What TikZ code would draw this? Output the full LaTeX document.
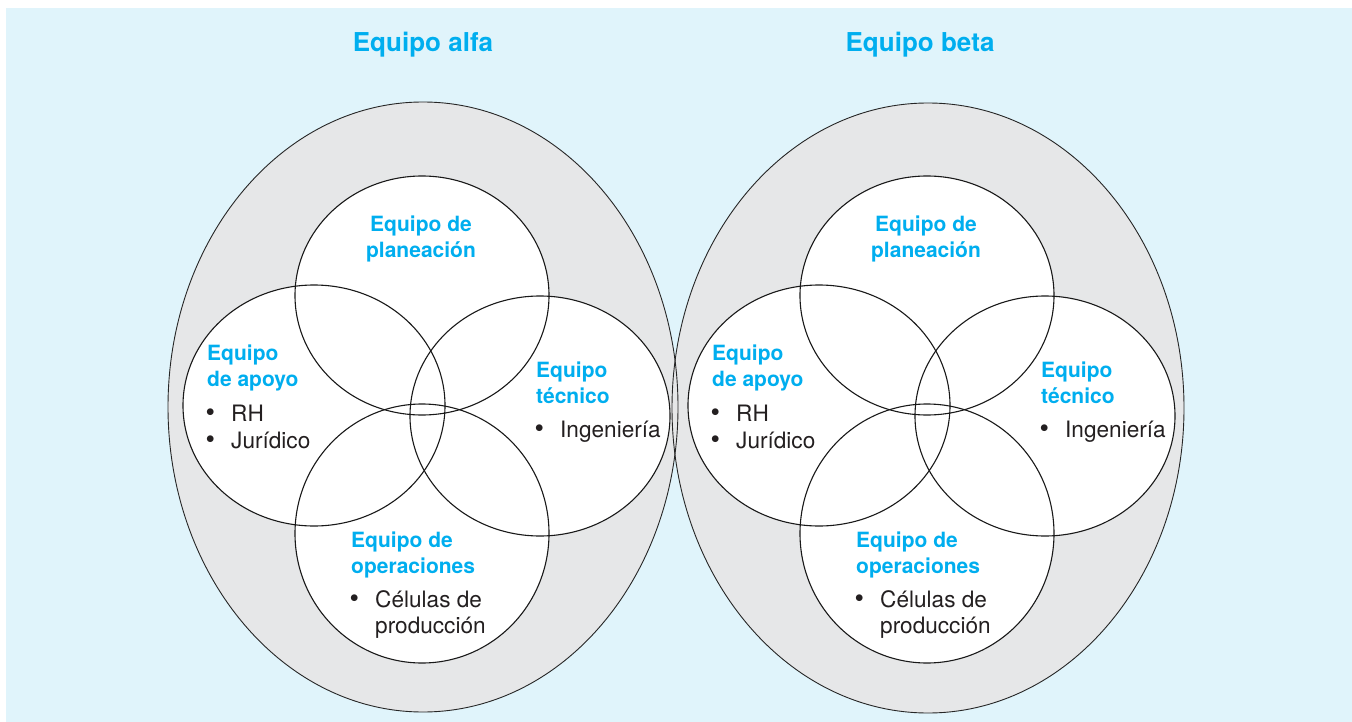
\documentclass[tikz,border=0pt]{standalone}
\usepackage{fontspec}
\setmainfont{TeX Gyre Heros}
\definecolor{bgblue}{HTML}{E0F4FB}
\definecolor{ringgray}{HTML}{E6E7E8}
\definecolor{cyanhead}{HTML}{00AEEF}
\definecolor{bodytext}{HTML}{231F20}
\begin{document}
\begin{tikzpicture}[x=1pt,y=-1pt,
  head/.style={font=\fontsize{21}{26}\selectfont\bfseries, text=cyanhead, inner sep=0pt, anchor=base west},
  headc/.style={head, anchor=base},
  body/.style={font=\fontsize{22.6}{27}\selectfont, text=bodytext, inner sep=0pt, anchor=base west},
  bul/.style={font=\fontsize{27}{27}\selectfont, text=bodytext, inner sep=0pt, anchor=base west, yshift=-0.6pt, xshift=-1.6pt},
  title/.style={font=\fontsize{26}{30}\selectfont\bfseries, text=cyanhead, inner sep=0pt, anchor=base},
  ringfill/.style={fill=ringgray},
  ringline/.style={draw=black!85, line width=0.9pt},
  teamfill/.style={fill=white},
  teamline/.style={draw=black!90, line width=1.1pt}]
\useasboundingbox (0,0) rectangle (1352,722);
\fill[white] (0,0) rectangle (1352,722);
\fill[bgblue] (6,8) rectangle (1352,722);
% outer team ellipses
\path[ringfill] (423,407) ellipse [x radius=255, y radius=305];
\path[ringfill] (928,408) ellipse [x radius=256, y radius=305];
\path[ringline] (423,407) ellipse [x radius=255, y radius=305];
\path[ringline] (928,408) ellipse [x radius=256, y radius=305];
% titles
\node[title] (talfa) at (423,52) {Equipo alfa};
\node[title] (tbeta) at (920,52) {Equipo beta};
\foreach \g/\dx in {a/0,b/505}{
\begin{scope}[xshift=\dx]
  \path[teamfill] (422,295.5) ellipse [x radius=127, y radius=119.5];
  \path[teamfill] (314,405.5) ellipse [x radius=131, y radius=120.5];
  \path[teamfill] (540,416) ellipse [x radius=130, y radius=120];
  \path[teamfill] (422,533.5) ellipse [x radius=127, y radius=129.5];
  \path[teamline] (422,295.5) ellipse [x radius=127, y radius=119.5];
  \path[teamline] (314,405.5) ellipse [x radius=131, y radius=120.5];
  \path[teamline] (540,416) ellipse [x radius=130, y radius=120];
  \path[teamline] (422,533.5) ellipse [x radius=127, y radius=129.5];
  % planeacion
  \node[headc] (pl1-\g) at (421,232) {Equipo de};
  \node[headc] (pl2-\g) at (421,258) {planeación};
  % apoyo
  \node[head] (ap1-\g) at (207,360) {Equipo};
  \node[head] (ap2-\g) at (207,386) {de apoyo};
  \node[bul] (apb1-\g) at (207,421) {•};
  \node[body] (apt1-\g) at (231,421) {RH};
  \node[bul] (apb2-\g) at (207,448) {•};
  \node[body] (apt2-\g) at (231,448) {Jurídico};
  % tecnico
  \node[head] (te1-\g) at (536,377) {Equipo};
  \node[head] (te2-\g) at (536,403) {técnico};
  \node[bul] (teb1-\g) at (536,437) {•};
  \node[body] (tet1-\g) at (560,437) {Ingeniería};
  % operaciones
  \node[head] (op1-\g) at (351,547) {Equipo de};
  \node[head] (op2-\g) at (351,573) {operaciones};
  \node[bul] (opb1-\g) at (351,607) {•};
  \node[body] (opt1-\g) at (375,607) {Células de};
  \node[body] (opt2-\g) at (375,633) {producción};
\end{scope}
}
\end{tikzpicture}
\end{document}
